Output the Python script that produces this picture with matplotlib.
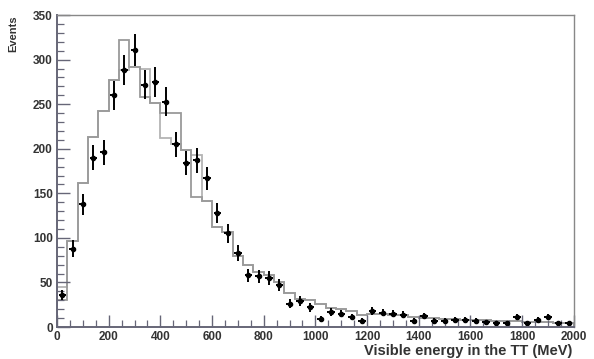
import numpy as np
import matplotlib.pyplot as plt
from matplotlib.ticker import MultipleLocator

plt.rcParams["font.family"] = ["Liberation Sans", "DejaVu Sans"]

# 40 MeV bins from 0 to 2000 MeV
bin_edges = np.arange(0, 2001, 40)

# measured counts per bin
data_counts = [36, 88, 138, 190, 196, 260, 288, 311, 272, 275,
               253, 205, 184, 187, 167, 128, 105, 83, 58, 57,
               55, 47, 26, 29, 22, 9, 17, 15, 11, 7,
               18, 16, 15, 14, 7, 12, 7, 7, 8, 8,
               7, 6, 5, 5, 11, 5, 8, 11, 4, 5]

# simulation, two variants
mc_a = [30, 97, 162, 213, 242, 277, 322, 292, 258, 251,
        240, 240, 199, 146, 141, 112, 107, 80, 70, 62,
        58, 50, 38, 32, 30, 26, 21, 20, 18, 13,
        15, 15, 14, 13, 11, 10, 10, 9, 9, 8,
        8, 8, 7, 7, 7, 6, 6, 6, 5, 5]
mc_b = [45, 97, 162, 213, 242, 277, 288, 292, 290, 251,
        212, 205, 199, 193, 141, 112, 107, 80, 70, 62,
        58, 50, 38, 32, 30, 26, 21, 20, 18, 13,
        15, 15, 14, 13, 11, 10, 10, 9, 9, 8,
        8, 8, 7, 7, 7, 6, 6, 6, 5, 5]

centers = 0.5 * (bin_edges[:-1] + bin_edges[1:])
counts = np.array(data_counts, dtype=float)

fig = plt.figure(figsize=(5.94, 3.59), dpi=100)
ax = fig.add_axes([0.096, 0.089, 0.870, 0.869])

ax.stairs(mc_b, bin_edges, color="#b4b4b4", lw=1.3)
ax.stairs(mc_a, bin_edges, color="#9a9a9a", lw=1.3)

ax.errorbar(centers, counts, yerr=np.sqrt(counts), xerr=14,
            fmt="o", ms=3.0, color="black", ecolor="black",
            elinewidth=1.4, capsize=0)

ax.set_xlim(0, 2000)
ax.set_ylim(0, 350)
ax.xaxis.set_major_locator(MultipleLocator(200))
ax.xaxis.set_minor_locator(MultipleLocator(50))
ax.yaxis.set_major_locator(MultipleLocator(50))
ax.yaxis.set_minor_locator(MultipleLocator(10))

ax.tick_params(which="both", direction="in", top=False, right=False,
               color="#666677", labelsize=8.5, labelcolor="#333333")
ax.tick_params(which="major", length=9, width=1.0)
ax.tick_params(which="minor", length=5, width=0.9)
ax.tick_params(axis="x", pad=2.5)
ax.tick_params(axis="y", pad=3)
for lab in ax.get_xticklabels() + ax.get_yticklabels():
    lab.set_fontweight("bold")

for side in ["left", "bottom"]:
    ax.spines[side].set_color("#666677")
    ax.spines[side].set_linewidth(1.4)
for side in ["top", "right"]:
    ax.spines[side].set_color("#888888")
    ax.spines[side].set_linewidth(1.0)

fig.text(0.022, 0.958, "Events", rotation=90, ha="center", va="top",
         fontsize=8, fontweight="bold", color="#333333")
fig.text(0.963, 0.003, "Visible energy in the TT (MeV)", ha="right",
         va="bottom", fontsize=10.5, fontweight="bold", color="#333333")

fig.savefig("out.png", dpi=100)
